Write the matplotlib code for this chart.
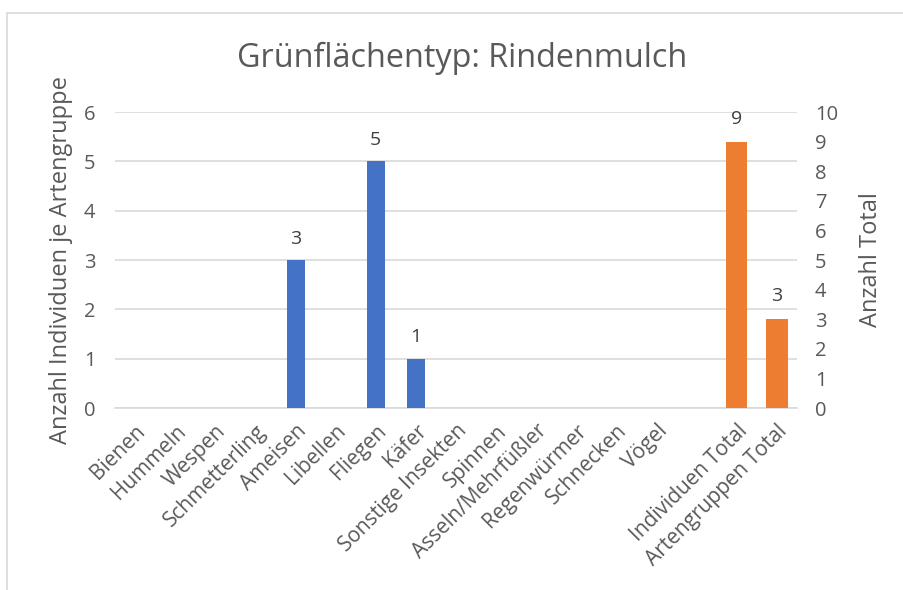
import numpy as np
import matplotlib.pyplot as plt
from matplotlib.patches import Rectangle

plt.rcParams['font.family'] = ['Open Sans', 'DejaVu Sans']

categories = ["Bienen", "Hummeln", "Wespen", "Schmetterling", "Ameisen", "Libellen",
              "Fliegen", "Käfer", "Sonstige Insekten", "Spinnen", "Asseln/Mehrfüßler",
              "Regenwürmer", "Schnecken", "Vögel", "", "Individuen Total",
              "Artengruppen Total"]
gruppe_values = [0, 0, 0, 0, 3, 0, 5, 1, 0, 0, 0, 0, 0, 0]
total_labels = ["Individuen Total", "Artengruppen Total"]
total_values = [9, 3]

BLUE = "#4472C4"
ORANGE = "#ED7D31"
TXT = "#595959"
GRID = "#D9D9D9"

fig = plt.figure(figsize=(9.04, 5.9), dpi=100)
fig.patches.append(Rectangle((7 / 904, -0.1), 1.2, 1 - 13 / 590 + 0.1,
                             transform=fig.transFigure, fill=False,
                             edgecolor=GRID, linewidth=1.2))

ax = fig.add_axes([115 / 904, 1 - 408 / 590, 682 / 904, 296 / 590])
ax2 = ax.twinx()

x = np.arange(len(categories))
xg = x[:len(gruppe_values)]
xt = np.array([categories.index(c) for c in total_labels])

ax.bar(xg, gruppe_values, width=0.45, color=BLUE, zorder=3)
ax2.bar(xt, total_values, width=0.53, color=ORANGE, zorder=3)

for xi, v in zip(xg, gruppe_values):
    if v:
        ax.annotate(str(v), (xi, v), xytext=(0, 9), textcoords="offset points",
                    ha="center", va="bottom", fontsize=14, color="#404040")
for xi, v in zip(xt, total_values):
    ax2.annotate(str(v), (xi, v), xytext=(0, 10), textcoords="offset points",
                 ha="center", va="bottom", fontsize=14, color="#404040")

ax.set_xlim(-0.5, len(categories) - 0.5)
ax.set_ylim(0, 6)
ax2.set_ylim(0, 10)
ax.set_yticks(range(0, 7))
ax2.set_yticks(range(0, 11))
ax.yaxis.grid(True, color=GRID, linewidth=1.2, zorder=0)
ax.set_axisbelow(True)

ax.set_xticks(x)
ax.set_xticklabels(categories, rotation=45, ha="right", rotation_mode="anchor",
                   fontsize=15, color=TXT)
ax.tick_params(axis="x", length=0, pad=9)
ax.tick_params(axis="y", length=0, labelsize=14.5, labelcolor=TXT, pad=14)
ax2.tick_params(axis="y", length=0, labelsize=14.5, labelcolor=TXT, pad=13)

for a in (ax, ax2):
    for s in a.spines.values():
        s.set_visible(False)
ax.spines["bottom"].set_visible(True)
ax.spines["bottom"].set_color(GRID)
ax.spines["bottom"].set_linewidth(1.2)

ax.set_ylabel("Anzahl Individuen je Artengruppe", fontsize=17, color=TXT, labelpad=8)
ax2.set_ylabel("Anzahl Total", fontsize=17, color=TXT, labelpad=15)

fig.text(462 / 904, 1 - 58 / 590, "Grünflächentyp: Rindenmulch", ha="center",
         va="center", fontsize=23.3, color=TXT)

fig.savefig("out.png", dpi=100)
